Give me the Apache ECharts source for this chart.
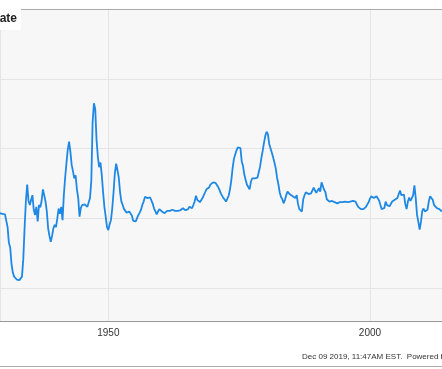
<!DOCTYPE html>
<html>
<head>
<meta charset="utf-8">
<script src="https://cdn.jsdelivr.net/npm/echarts@6/dist/echarts.min.js"></script>
<style>html,body{margin:0;padding:0;background:#fff;}#c{width:442px;height:369px;}</style>
</head>
<body>
<div id="c"></div>
<script>
// US inflation rate (%), quarterly readings from the picture, first point at 1929.25
const startYear = 1929.25;
const step = 0.25;
const vals1929_1949 = [
  0.9, 1.0, 0.8,
  1.1, 0.7, 0.6, -1.5,
  -4.2, -5.0, -7.8, -9.3,
  -10.0, -10.3, -10.5, -10.2,
  -10.6, -10.4, -10.0, -7.0,
  -1.6, 3.0, 5.8, 3.0,
  2.3, 3.2, 4.0, 1.5,
  0.6, 2.0, -0.5, 2.3,
  1.9, 3.0, 5.0, 4.0,
  2.9, 1.2, -1.7, -3.0,
  -4.0, -3.0, -1.7, -1.1,
  -1.5, 0.0, 1.7, 0.8,
  2.0, -0.3, 4.0, 7.0,
  9.5, 11.8, 13.2, 11.5,
  9.2, 8.1, 6.9, 7.4,
  5.0, 3.5, 0.3, 1.8,
  2.3, 2.0, 2.4, 2.6,
  2.0, 1.8, 3.5, 6.5,
  16.5, 19.8, 18.8, 13.5,
  10.6, 8.8, 9.6, 7.5,
  4.5, 2.0, 0.3, -1.5
];
const vals1950_1969 = [
  -2.0, -1.0, -0.3, 1.7,
  4.5, 7.8, 9.4, 8.3,
  7.0, 4.5, 2.9, 2.3,
  1.6, 1.3, 1.0, 1.1,
  1.2, 1.3, 0.5, -0.4,
  -0.5, -0.5, -0.3, 0.6,
  1.0, 1.5, 2.3, 2.9,
  3.7, 4.0, 3.5, 3.7,
  3.6, 3.5, 2.5, 1.7,
  1.2, 0.7, 1.2, 1.6,
  1.5, 1.2, 1.5, 0.9,
  1.2, 1.3, 1.2, 1.3,
  1.4, 1.5, 1.4, 1.3,
  1.2, 1.3, 1.5, 1.4,
  1.6, 1.75, 1.5, 1.4,
  1.5, 1.6, 2.0, 1.8,
  1.75, 2.3, 2.9, 3.9,
  3.2, 2.9, 2.8, 2.6,
  3.5, 4.0, 4.5, 5.0,
  5.1, 5.3, 5.8, 6.0
];
const vals1970_1989 = [
  6.2, 6.3, 6.1, 5.8,
  5.4, 4.9, 4.3, 4.0,
  3.5, 3.2, 2.9, 3.4,
  3.9, 5.0, 6.5, 8.6,
  10.2, 11.0, 11.7, 12.2,
  12.5, 12.1, 9.8, 9.0,
  7.5, 6.6, 5.8, 5.4,
  5.0, 6.3, 6.9, 6.9,
  6.9, 6.8, 7.0, 7.2,
  8.9, 10.4, 11.6, 13.0,
  14.2, 14.9, 14.5, 12.8,
  12.6, 11.3, 10.5, 9.6,
  8.6, 7.0, 5.9, 4.5,
  3.7, 3.3, 2.6, 3.2,
  4.0, 4.6, 4.3, 4.1,
  4.0, 3.8, 3.6, 3.5,
  4.0, 2.5, 1.6, 1.5,
  1.2, 3.3, 4.0, 4.5,
  4.3, 4.2, 4.0, 4.3,
  4.6, 5.3, 4.8, 4.4
];
const vals1990_2013 = [
  4.4, 5.2, 4.6, 6.2,
  5.9, 4.9, 4.5, 3.3,
  3.0, 2.9, 3.0, 3.0,
  3.1, 2.8, 2.7, 2.6,
  2.6, 2.8, 2.9, 2.8,
  2.9, 2.9, 2.8, 2.8,
  2.8, 2.9, 2.9, 3.0,
  3.2, 2.9, 2.4, 2.0,
  1.9, 1.6, 1.5, 1.6,
  1.7, 2.0, 2.3, 2.8,
  3.4, 3.8, 3.6, 3.5,
  3.6, 3.8, 3.6, 3.1,
  2.3, 1.6, 1.6, 1.8,
  2.9, 2.3, 2.1, 2.1,
  2.3, 2.9, 3.1, 3.2,
  2.9, 3.5, 4.2, 4.8,
  4.0, 4.3, 4.1, 2.5,
  1.6, 2.9, 3.6, 3.0,
  3.5, 4.0, 5.7, 3.5,
  0.6, -0.6, -1.9, -0.6,
  1.3, 1.7, 1.2, 1.5,
  1.5, 2.9, 3.8, 4.0,
  3.2, 2.3, 2.0, 1.8,
  1.75, 1.6, 1.8, 1.2
];
const xTicks = [1950, 2000];
const legendText = 'US Inflation Rate';
const footerText = 'Dec 09 2019, 11:47AM EST.  Powered by YCHARTS';

const allVals = vals1929_1949.concat(vals1950_1969, vals1970_1989, vals1990_2013);
const data = allVals.map((v, i) => [startYear + i * step, v]);

const xMin = 1929.30, xMax = 2013.77;
const yMin = -17.63, yMax = 36;

const chart = echarts.init(document.getElementById('c'), null, {renderer: 'canvas'});
chart.setOption({
  animation: false,
  backgroundColor: '#ffffff',
  textStyle: {fontFamily: 'Liberation Sans, Arial, sans-serif'},
  title: [
    {text: legendText, right: 421, top: 8, backgroundColor: '#ffffff', padding: [5, 4, 5, 4],
     textStyle: {fontSize: 12, fontWeight: 'bold', color: '#222', fontFamily: 'Liberation Sans'}},
    {text: footerText, left: 302, top: 353, padding: 0,
     textStyle: {fontSize: 8, fontWeight: 'normal', color: '#333', fontFamily: 'Liberation Sans'}}
  ],
  graphic: [{type: 'line', shape: {x1: 0, y1: 366.5, x2: 442, y2: 366.5}, style: {stroke: '#aaa', lineWidth: 1}, silent: true}],
  grid: {left: -2, right: -2, top: 9, bottom: 48, show: true, backgroundColor: '#f7f7f7', borderWidth: 0},
  xAxis: [{
    type: 'value', min: xMin, max: xMax, minInterval: 50, maxInterval: 50,
    axisLine: {onZero: false, lineStyle: {color: '#999', width: 1}},
    axisTick: {show: false},
    axisLabel: {showMinLabel: false, showMaxLabel: false, color: '#333', fontSize: 10, margin: 7,
      formatter: v => (xTicks.indexOf(Math.round(v)) >= 0 ? String(Math.round(v)) : '')},
    splitLine: {show: true, lineStyle: {color: '#e4e4e4', width: 1}}
  }, {
    type: 'value', position: 'top', min: xMin, max: xMax,
    axisLine: {show: true, onZero: false, lineStyle: {color: '#aaa', width: 1}},
    axisTick: {show: false}, axisLabel: {show: false}, splitLine: {show: false}
  }],
  yAxis: {
    type: 'value', min: yMin, max: yMax, minInterval: 12, maxInterval: 12,
    axisLine: {show: false}, axisTick: {show: false}, axisLabel: {show: false},
    splitLine: {show: true, lineStyle: {color: '#e4e4e4', width: 1}}
  },
  series: [{
    type: 'line', data: data, xAxisIndex: 0, showSymbol: false, symbol: 'none', clip: true,
    lineStyle: {color: '#1e88e5', width: 1.8}
  }]
});
</script>
</body>
</html>
